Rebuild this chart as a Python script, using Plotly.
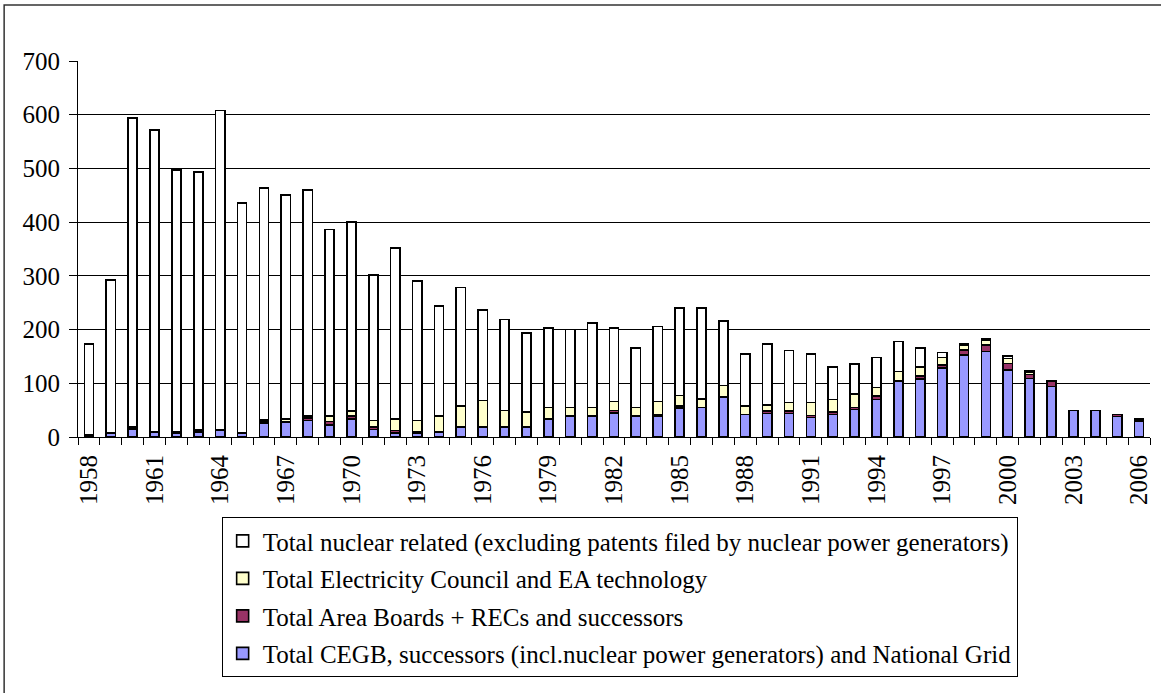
import plotly.graph_objects as go

# Patent counts per year, by filing organisation
years = list(range(1958, 2007))

cegb = [2, 7, 15, 9, 7, 9, 12, 7, 25, 27, 31, 22, 33, 14, 8, 8, 9, 19, 19, 19,
        19, 33, 39, 39, 45, 39, 38, 54, 55, 74, 42, 44, 44, 36, 42, 51, 70, 103, 108, 128,
        153, 159, 125, 109, 94, 49, 49, 38, 30]
area_boards = [0, 0, 2, 0, 1, 2, 0, 0, 3, 2, 4, 7, 6, 5, 4, 1, 0, 0, 0, 0,
               0, 0, 0, 0, 4, 0, 3, 4, 0, 0, 0, 4, 4, 4, 4, 4, 6, 2, 6, 6,
               9, 12, 12, 7, 10, 0, 0, 4, 3]
elec_council = [2, 0, 2, 0, 2, 3, 2, 0, 4, 5, 4, 10, 9, 12, 22, 22, 30, 39, 49, 30,
                27, 22, 16, 16, 17, 16, 25, 19, 16, 22, 16, 12, 16, 24, 24, 25, 16, 17, 16, 14,
                9, 9, 9, 5, 0, 0, 0, 0, 0]
nuclear = [169, 285, 575, 562, 487, 479, 594, 429, 432, 417, 421, 347, 352, 271, 318, 259, 205, 220, 169, 170,
           148, 148, 145, 157, 137, 111, 140, 163, 169, 120, 97, 113, 97, 91, 60, 56, 56, 56, 36, 9,
           2, 3, 5, 2, 1, 0, 0, 0, 0]

label_years = list(range(1958, 2007, 3))

# Stacked bottom to top; legend lists them top to bottom
series = [
    ("Total CEGB, successors (incl.nuclear power generators) and National Grid", cegb, "#9999FF"),
    ("Total Area Boards + RECs and successors", area_boards, "#993366"),
    ("Total Electricity Council and EA technology", elec_council, "#FFFFCC"),
    ("Total nuclear related (excluding patents filed by nuclear power generators)", nuclear, "#FFFFFF"),
]

FONT = "Liberation Serif"

fig = go.Figure()
for i, (name, values, color) in enumerate(series):
    fig.add_trace(go.Bar(
        x=years, y=values, name=name,
        legendgroup=f"g{i}", legendrank=1000 - i,
        marker=dict(color=color, line=dict(color="black", width=1.6)),
    ))

fig.update_layout(
    width=1161, height=693,
    margin=dict(l=78, r=9, t=61, b=256),
    paper_bgcolor="white", plot_bgcolor="white",
    barmode="stack", bargap=0.58,
    font=dict(family=FONT, size=25, color="black"),
    showlegend=True,
    legend=dict(
        x=0.134, y=-0.213, xanchor="left", yanchor="top",
        traceorder="grouped", tracegroupgap=2,
        bordercolor="black", borderwidth=1, bgcolor="white",
        font=dict(family=FONT, size=25, color="black"),
    ),
    xaxis=dict(
        type="linear", range=[1957.5, 2006.5],
        tickmode="array", tickvals=label_years, ticktext=[str(y) for y in label_years],
        tickangle=-90, ticks="outside", ticklen=7, tickcolor="rgba(0,0,0,0)",
        showline=True, linecolor="black", linewidth=1,
        showgrid=False, zeroline=False,
        minor=dict(tickmode="array", tickvals=[1957.5 + i for i in range(50)],
                   ticks="outside", ticklen=7, tickcolor="black", tickwidth=1, showgrid=False),
        tickfont=dict(family=FONT, size=25, color="black"),
    ),
    yaxis=dict(
        range=[0, 700], dtick=100, tick0=0,
        ticks="outside", ticklen=8, tickcolor="black",
        showline=True, linecolor="black", linewidth=1,
        showgrid=True, gridcolor="black", gridwidth=1, zeroline=False,
        ticklabelstandoff=4,
        tickfont=dict(family=FONT, size=25, color="black"),
    ),
    shapes=[dict(
        type="rect", xref="paper", yref="paper",
        x0=-0.0689, x1=1.3, y0=-1.5, y1=1.149,
        line=dict(color="#333333", width=1.5), fillcolor="rgba(0,0,0,0)", layer="below",
    )],
)

fig.write_html("out.html")
